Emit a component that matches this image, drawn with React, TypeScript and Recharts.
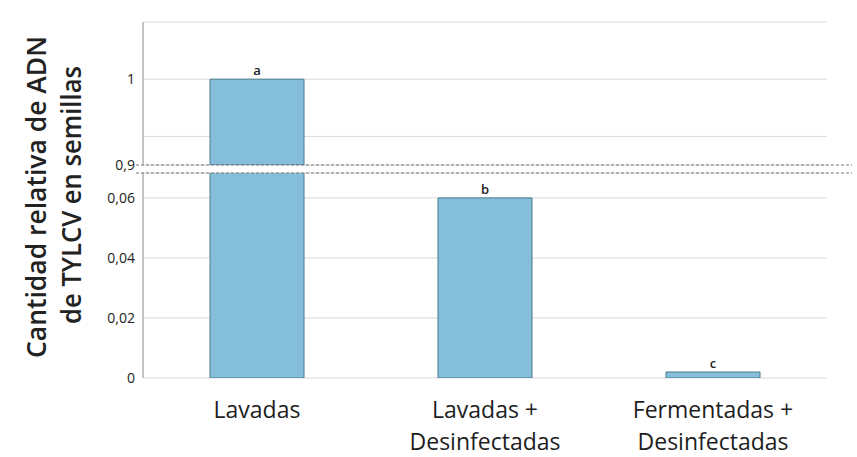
import React from "react";
import { BarChart, Bar, XAxis, YAxis, CartesianGrid, LabelList } from "recharts";

// treatments and relative TYLCV DNA amount (broken axis: 0–0.068 and 0.85–1.1)
const categories = ["Lavadas", "Lavadas +\nDesinfectadas", "Fermentadas +\nDesinfectadas"];
const values = [1, 0.06, 0.002];
const letters = ["a", "b", "c"];

const lowerTicks = [0, 0.02, 0.04, 0.06];
const upperTicks = [0.85, 0.9, 1, 1.1];
const LOWER_MAX = 0.0683;
const UPPER_MIN = 0.85;
const UPPER_MAX = 1.1;

const data = categories.map((name, i) => ({
  name,
  value: values[i],
  sig: letters[i],
}));

const FONT = "'Open Sans', sans-serif";
const FILL = "#84bedb";
const EDGE = "#4a7b8f";
const GRID = "#d9d9d9";
const AXIS = "#8a8a8a";

const fmt = (v: number) => String(v).replace(".", ",");

function CategoryTick(props: any) {
  const { x, y, payload } = props;
  const lines = String(payload.value).split("\n");
  return (
    <text x={x} y={y} textAnchor="middle" fill="#1e1e1e" fontSize={23} fontFamily={FONT}>
      {lines.map((l, i) => (
        <tspan key={i} x={x} dy={i === 0 ? 32 : 32}>
          {l}
        </tspan>
      ))}
    </text>
  );
}

function SigLabel(max: number, min: number) {
  return (props: any) => {
    const { x, y, width, index } = props;
    const v = values[index];
    if (v > max || v < min) return null;
    return (
      <text x={x + width / 2} y={y - 4} textAnchor="middle" fontSize={13} fontWeight={600} fontFamily={FONT} fill="#222">
        {letters[index]}
      </text>
    );
  };
}

const yTick = { fontSize: 14, fill: "#222", fontFamily: FONT };

export default function App() {
  return (
    <div style={{ position: "absolute", left: 0, top: 0, width: 857, height: 457, background: "#fff" }}>
      <div style={{ position: "absolute", left: 0, top: 0 }}>
        <BarChart width={857} height={185} data={data} margin={{ top: 22, right: 30, left: 0, bottom: 20 }}>
          <CartesianGrid vertical={false} stroke={GRID} />
          <XAxis dataKey="name" hide />
          <YAxis
            width={143}
            type="number"
            domain={[UPPER_MIN, UPPER_MAX]}
            ticks={upperTicks}
            interval={0}
            allowDataOverflow
            tickLine={false}
            axisLine={{ stroke: AXIS }}
            tickFormatter={(v: number) => (v === 1 ? "1" : v === UPPER_MIN ? "0,9" : "")}
            tick={yTick}
          />
          <Bar
            dataKey={(d: any) => (d.value >= UPPER_MIN ? d.value : null)}
            fill={FILL}
            stroke={EDGE}
            strokeWidth={1}
            barSize={94}
            isAnimationActive={false}
          >
            <LabelList dataKey="sig" content={SigLabel(Infinity, UPPER_MIN)} />
          </Bar>
        </BarChart>
      </div>
      <div style={{ position: "absolute", left: 0, top: 165 }}>
        <BarChart width={857} height={292} data={data} margin={{ top: 8, right: 30, left: 0, bottom: 0 }}>
          <CartesianGrid vertical={false} stroke={GRID} />
          <XAxis
            xAxisId="edges"
            type="number"
            domain={[0, 3]}
            ticks={[0, 1, 2, 3]}
            height={0}
            tickSize={7}
            tickFormatter={() => ""}
            stroke={AXIS}
          />
          <XAxis
            xAxisId="cat"
            dataKey="name"
            height={79}
            axisLine={false}
            tickLine={false}
            interval={0}
            tick={<CategoryTick />}
          />
          <YAxis
            width={143}
            type="number"
            domain={[0, LOWER_MAX]}
            ticks={lowerTicks}
            interval={0}
            allowDataOverflow
            tickLine={false}
            axisLine={{ stroke: AXIS }}
            tickFormatter={fmt}
            tick={yTick}
          />
          <Bar
            xAxisId="cat"
            dataKey="value"
            fill={FILL}
            stroke={EDGE}
            strokeWidth={1}
            barSize={94}
            isAnimationActive={false}
          >
            <LabelList dataKey="sig" content={SigLabel(LOWER_MAX, 0)} />
          </Bar>
        </BarChart>
      </div>
      <svg
        width={857}
        height={457}
        style={{ position: "absolute", left: 0, top: 0, pointerEvents: "none" }}
      >
        <rect x={136} y={166} width={716} height={6} fill="#fff" />
        <line x1={136} x2={852} y1={165} y2={165} stroke="#777" strokeDasharray="3 2" />
        <line x1={136} x2={852} y1={173} y2={173} stroke="#777" strokeDasharray="3 2" />
        <text
          transform="translate(46,197) rotate(-90)"
          textAnchor="middle"
          fontSize={27}
          fontWeight={600}
          fontFamily={FONT}
          fill="#222"
          textLength={322}
          lengthAdjust="spacingAndGlyphs"
        >
          Cantidad relativa de ADN
        </text>
        <text
          transform="translate(81,195) rotate(-90)"
          textAnchor="middle"
          fontSize={27}
          fontWeight={600}
          fontFamily={FONT}
          fill="#222"
          textLength={258}
          lengthAdjust="spacingAndGlyphs"
        >
          de TYLCV en semillas
        </text>
      </svg>
    </div>
  );
}
